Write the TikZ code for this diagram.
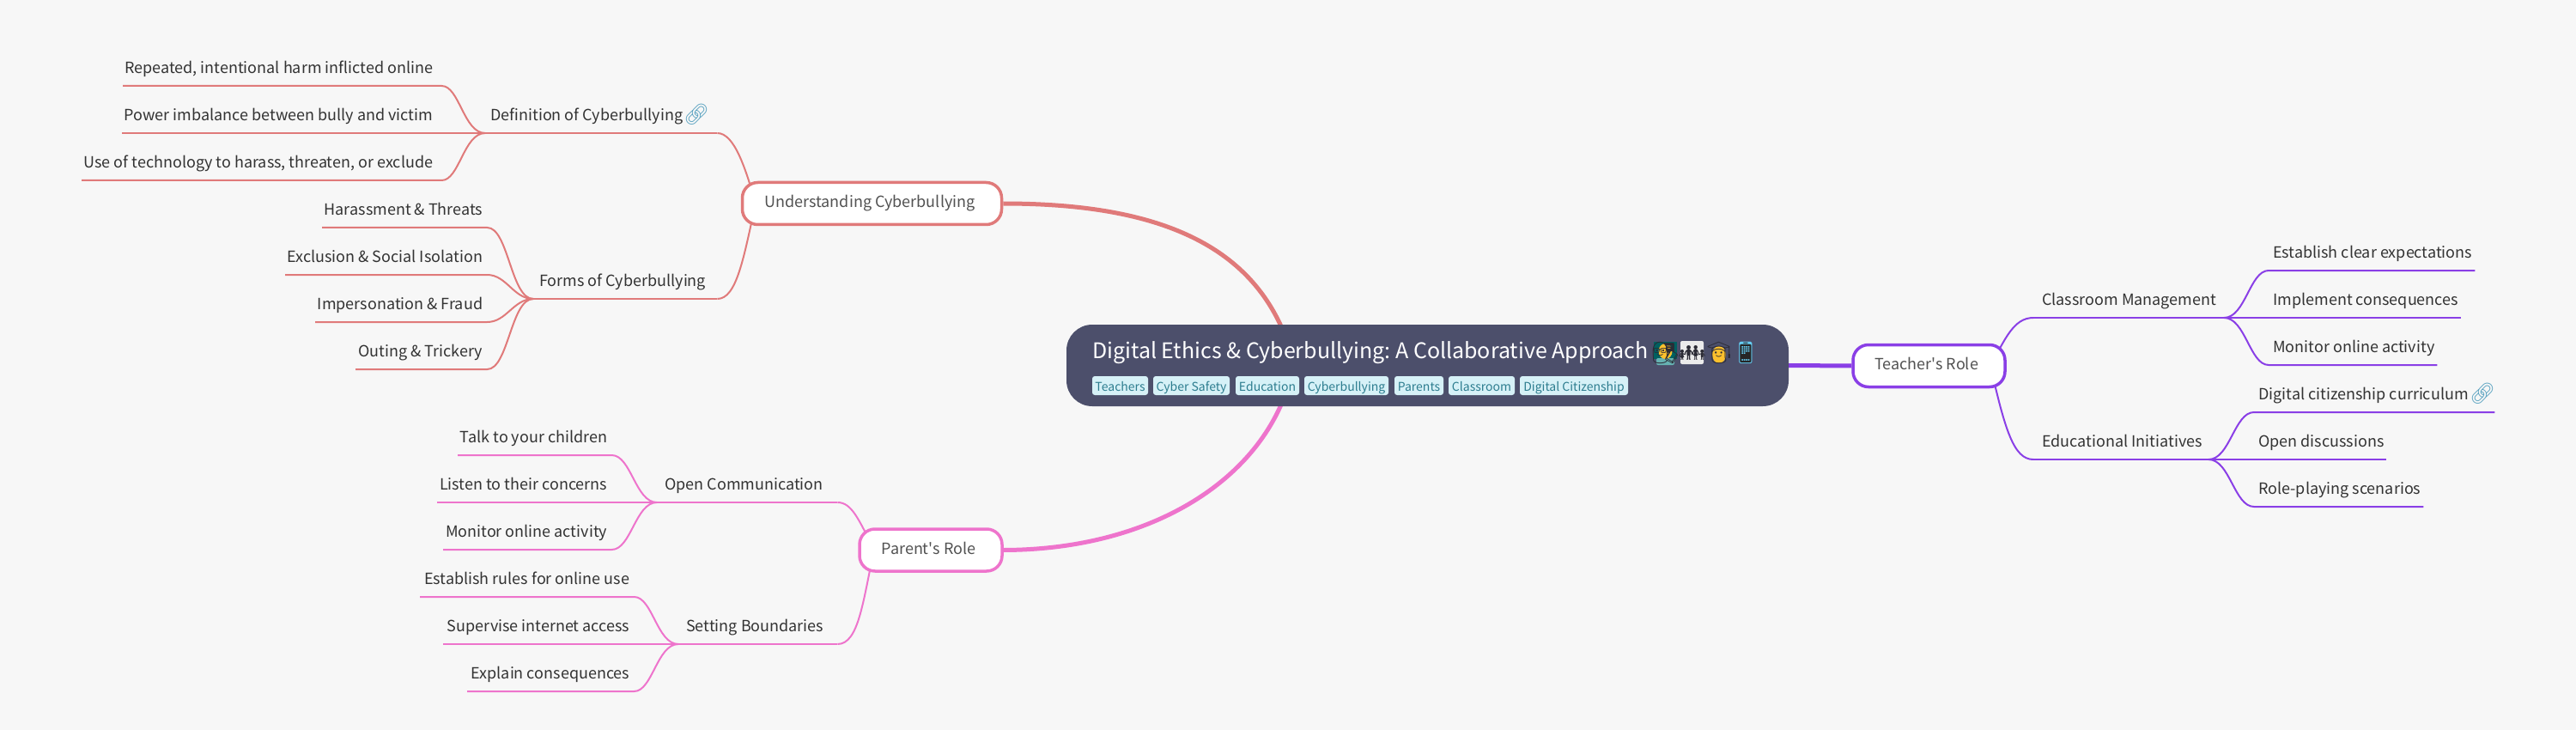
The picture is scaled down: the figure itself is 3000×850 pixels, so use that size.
\documentclass[tikz,border=0pt]{standalone}
\usepackage{fontspec}
\setmainfont{Noto Sans CJK SC}
\newfontfamily\emojifont{Noto Emoji}
\newfontfamily\aposfont{Noto Sans CJK SC}
\usetikzlibrary{backgrounds}
\definecolor{bgc}{HTML}{F7F7F7}
\definecolor{redc}{HTML}{E07A7A}
\definecolor{purc}{HTML}{8A3FE6}
\definecolor{pinc}{HTML}{EE74CC}
\definecolor{rootc}{HTML}{4C4F6B}
\definecolor{tagf}{HTML}{D6F1F7}
\definecolor{tagt}{HTML}{2D7D8F}
\definecolor{txtc}{HTML}{333333}
\definecolor{linkc}{HTML}{5FA5C2}
\definecolor{facec}{HTML}{FBC02D}
\definecolor{emodark}{HTML}{2B2B35}
\newcommand{\apos}{{\aposfont '}}
\tikzset{
 x=1pt,y=-1pt,
 rootbox/.style={fill=rootc,rounded corners=30pt,inner sep=0pt,minimum width=841pt,minimum height=95pt},
 mainbox/.style={draw=#1,line width=3.5pt,fill=white,rounded corners=18pt,inner sep=0pt,minimum height=49pt,text height=13pt,text depth=4pt,text=txtc!85!white,font=\frenchspacing\fontsize{18}{22}\selectfont},
 lbl/.style={inner sep=0pt,text height=13pt,text depth=4pt,minimum height=37pt,text=txtc,font=\frenchspacing\fontsize{18}{22}\selectfont},
 tagbox/.style={fill=tagf,text=tagt,rounded corners=3pt,inner sep=0pt,minimum height=22pt,text height=12pt,text depth=0pt,font=\fontsize{14}{18}\selectfont},
 mainedge/.style={draw=#1,line width=5pt},
 subedge/.style={draw=#1,line width=2pt},
 linkicon/.style={inner sep=0pt,text=linkc,font=\emojifont\fontsize{24}{28}\selectfont},
 emo/.style={inner sep=0pt,text=emodark,font=\emojifont\fontsize{25}{28}\selectfont},
}
\newcommand{\leafR}[5]{\node[lbl,minimum width=#3pt-#2pt,anchor=south west] (#1) at (#2,#4) {\makebox[\dimexpr#3pt-#2pt-10pt\relax][r]{#5}};}
\newcommand{\leafL}[5]{\node[lbl,minimum width=#3pt-#2pt,anchor=south west] (#1) at (#2,#4) {\makebox[\dimexpr#3pt-#2pt-10pt\relax][l]{#5}};}
\begin{document}
\begin{tikzpicture}
\useasboundingbox (0,0) rectangle (3000,850);
% root
\node[rootbox] (root) at (1662.5,425.5) {};
\node[inner sep=0pt,anchor=base west,text=white,font=\frenchspacing\fontsize{25}{30}\selectfont] (title) at (1272,417) {Digital Ethics \& Cyberbullying: A Collaborative Approach};
% emoji colour backings
\fill[teal!75!black] (1926,398) rectangle (1953,418);
\fill[teal!60!white,rounded corners=2pt] (1929,417) rectangle (1950,425);
\fill[facec] (1939.5,409) ellipse [x radius=8,y radius=9];
\fill[black!8,rounded corners=2pt] (1957,397) rectangle (1984,424);
\fill[facec] (2002,413) ellipse [x radius=8,y radius=10];
\fill[black!85,rounded corners=2pt] (2026,398) rectangle (2040,423);
\node[emo] (e1) at (1939.5,411) {👨‍🏫};
\node[emo] (e2) at (1970.5,411) {👪};
\node[emo] (e3) at (2002,411) {👩‍🎓};
\node[emo,text=cyan!60!white] (e4) at (2033,411) {📱};
\foreach \n/\a/\b/\t in {t1/1272/1337/Teachers,t2/1343/1432/Cyber Safety,t3/1439/1513/Education,t4/1519/1617/Cyberbullying,t5/1624/1681/Parents,t6/1687/1764/Classroom,t7/1770/1896/Digital Citizenship}{
  \pgfmathsetmacro\w{\b-\a}\pgfmathsetmacro\c{(\a+\b)/2}
  \node[tagbox,minimum width=\w pt] (\n) at (\c,449) {\t};
}
% main nodes
\node[mainbox=redc,minimum width=302pt] (under) at (1015.5,237) {\hspace*{-5pt}Understanding Cyberbullying};
\node[mainbox=pinc,minimum width=166pt] (parent) at (1084,640.5) {\hspace*{-5pt}Parent\apos s Role};
\node[mainbox=purc,minimum width=177pt] (teacher) at (2246.5,426) {\hspace*{-6pt}Teacher\apos s Role};
% inner attachment points
\coordinate (rootUp) at (1500,400);
\coordinate (rootDn) at (1500,450);
\coordinate (underIn) at (880,237);
\coordinate (parentIn) at (1018,640);
\coordinate (teacherIn) at (2318,426);
% red branch
\coordinate (jDef) at (565,155);
\coordinate (jForms) at (621,348);
\leafL{def}{565}{835}{155}{\hspace*{1pt}Definition of Cyberbullying}
\node[linkicon] (lk1) at (811,133) {🔗};
\leafR{rep}{143}{514}{100}{Repeated, intentional harm inflicted online\hspace*{5pt}}
\leafR{pow}{142}{514}{155}{Power imbalance between bully and victim\hspace*{5pt}}
\leafR{use}{95}{514}{210}{Use of technology to harass, threaten, or exclude\hspace*{5pt}}
\leafL{forms}{621}{835}{348}{\hspace*{2pt}Forms of Cyberbullying}
\leafR{har}{375}{567}{265}{Harassment \& Threats}
\leafR{exc}{332}{567}{320}{Exclusion \& Social Isolation}
\leafR{imp}{367}{567}{375}{Impersonation \& Fraud}
\leafR{out}{414}{567}{430}{Outing \& Trickery}
% pink branch
\coordinate (jOpen) at (765,585);
\coordinate (jSet) at (790,750);
\leafL{open}{765}{975}{585}{\hspace*{4pt}Open Communication}
\leafL{setb}{790}{975}{750}{\hspace*{4pt}Setting Boundaries}
\leafR{talk}{533}{712}{530}{Talk to your children}
\leafR{list}{509}{712}{585}{Listen to their concerns}
\leafR{mon}{516}{712}{640}{Monitor online activity}
\leafR{rule}{489}{738}{695}{Establish rules for online use}
\leafR{sup}{516}{738}{750}{Supervise internet access}
\leafR{expl}{544}{738}{805}{Explain consequences}
% purple branch
\coordinate (jClass) at (2590,370);
\coordinate (jEdu) at (2572,535);
\leafL{cls}{2368}{2590}{370}{\hspace*{5pt}Classroom Management}
\leafL{edu}{2368}{2572}{535}{\hspace*{5pt}Educational Initiatives}
\leafL{est}{2642}{2882}{315}{Establish clear expectations}
\leafL{impl}{2642}{2866}{370}{Implement consequences}
\leafL{moni}{2642}{2838}{425}{Monitor online activity}
\leafL{dig}{2625}{2905}{480}{Digital citizenship curriculum}
\node[linkicon] (lk2) at (2891,458) {🔗};
\leafL{opn}{2625}{2779}{535}{Open discussions}
\leafL{role}{2625}{2822}{590}{Role-playing scenarios}
\begin{scope}[on background layer]
\fill[bgc] (0,0) rectangle (3000,850);
\path[mainedge=redc] (under.east) .. controls (1340,237) and (1458,280) .. (rootUp);
\path[mainedge=pinc] (parent.east) .. controls (1340,640) and (1465,560) .. (rootDn);
\path[mainedge=purc] (root.east) -- (teacher.west);
% red
\path[subedge=redc] (def.south east) .. controls (855,155) and (868,195) .. (underIn);
\path[subedge=redc] (forms.south east) .. controls (858,348) and (866,300) .. (underIn);
\path[subedge=redc] (def.south east) -- (jDef);
\path[subedge=redc] (forms.south east) -- (jForms);
\path[subedge=redc] (jDef) .. controls (540,155) and (535,100) .. (rep.south east) -- (rep.south west);
\path[subedge=redc] (jDef) -- (pow.south west);
\path[subedge=redc] (jDef) .. controls (540,155) and (535,210) .. (use.south east) -- (use.south west);
\path[subedge=redc] (jForms) .. controls (595,348) and (592,265) .. (har.south east) -- (har.south west);
\path[subedge=redc] (jForms) .. controls (598,348) and (590,320) .. (exc.south east) -- (exc.south west);
\path[subedge=redc] (jForms) .. controls (598,348) and (590,375) .. (imp.south east) -- (imp.south west);
\path[subedge=redc] (jForms) .. controls (595,348) and (592,430) .. (out.south east) -- (out.south west);
% pink
\path[subedge=pinc] (open.south east) .. controls (992,585) and (1000,605) .. (parentIn);
\path[subedge=pinc] (setb.south east) .. controls (1000,750) and (1005,700) .. (parentIn);
\path[subedge=pinc] (open.south east) -- (jOpen);
\path[subedge=pinc] (setb.south east) -- (jSet);
\path[subedge=pinc] (jOpen) .. controls (740,585) and (735,530) .. (talk.south east) -- (talk.south west);
\path[subedge=pinc] (jOpen) -- (list.south west);
\path[subedge=pinc] (jOpen) .. controls (740,585) and (735,640) .. (mon.south east) -- (mon.south west);
\path[subedge=pinc] (jSet) .. controls (765,750) and (760,695) .. (rule.south east) -- (rule.south west);
\path[subedge=pinc] (jSet) -- (sup.south west);
\path[subedge=pinc] (jSet) .. controls (765,750) and (760,805) .. (expl.south east) -- (expl.south west);
% purple
\path[subedge=purc] (cls.south west) -- (jClass);
\path[subedge=purc] (edu.south west) -- (jEdu);
\path[subedge=purc] (cls.south west) .. controls (2345,370) and (2335,395) .. (teacherIn);
\path[subedge=purc] (edu.south west) .. controls (2345,535) and (2335,500) .. (teacherIn);
\path[subedge=purc] (jClass) .. controls (2615,370) and (2620,315) .. (est.south west) -- (est.south east);
\path[subedge=purc] (jClass) -- (impl.south east);
\path[subedge=purc] (jClass) .. controls (2615,370) and (2620,425) .. (moni.south west) -- (moni.south east);
\path[subedge=purc] (jEdu) .. controls (2597,535) and (2602,480) .. (dig.south west) -- (dig.south east);
\path[subedge=purc] (jEdu) -- (opn.south east);
\path[subedge=purc] (jEdu) .. controls (2597,535) and (2602,590) .. (role.south west) -- (role.south east);
\end{scope}
\end{tikzpicture}
\end{document}
